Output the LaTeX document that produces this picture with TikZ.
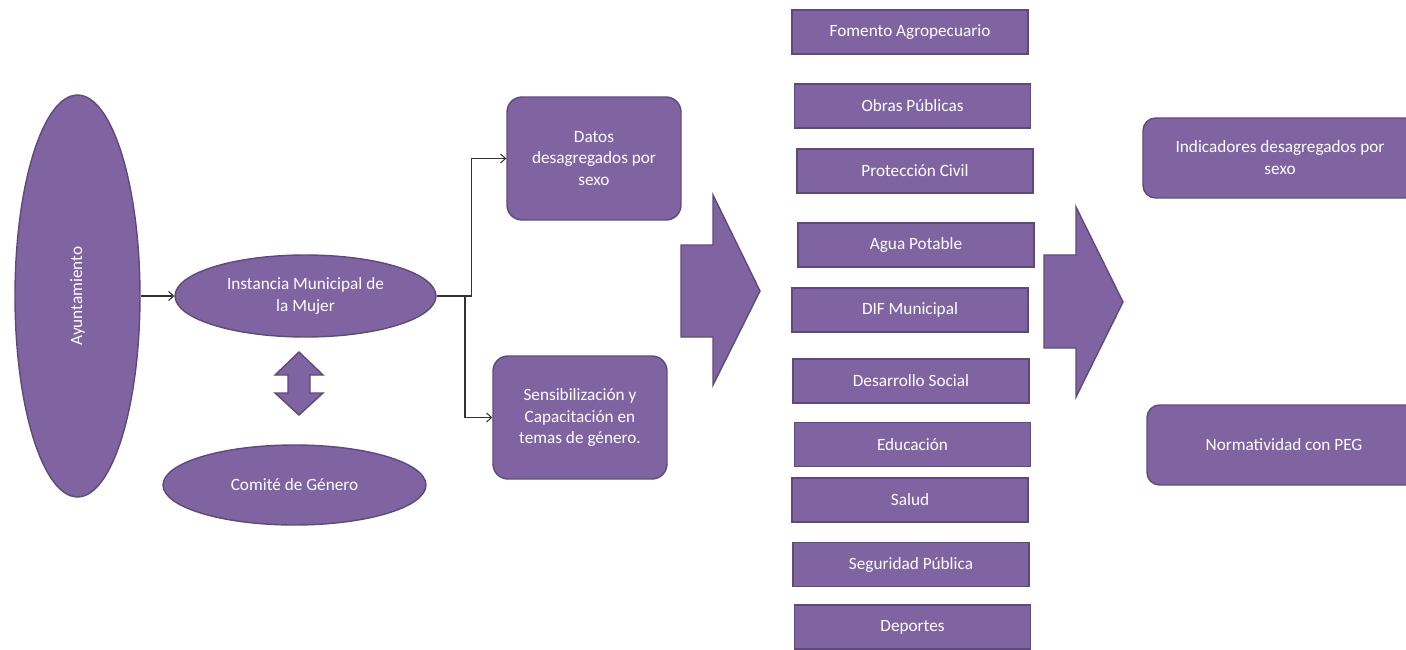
\documentclass[tikz,border=0pt]{standalone}
\usepackage{fontspec}
\setmainfont{Carlito}
\usetikzlibrary{shapes.geometric,arrows.meta}
\definecolor{morado}{HTML}{8064A2}
\definecolor{moradoborde}{HTML}{5E4A7A}
\begin{document}
\begin{tikzpicture}[x=0.02cm,y=-0.02cm,
    elipse/.style={ellipse,draw=moradoborde,fill=morado,line width=0.8pt,inner sep=0pt,text=white,align=center,font=\fontsize{9.8}{12.5}\selectfont},
    caja/.style={rectangle,draw=moradoborde,fill=morado,line width=0.8pt,inner sep=0pt,text=white,align=center,minimum width=4.72cm,minimum height=0.88cm,font=\fontsize{9.8}{12.5}\selectfont},
    redonda/.style={caja,rounded corners=0.3cm},
    flecha/.style={draw=moradoborde,fill=morado,line width=0.8pt,line join=miter},
    conector/.style={draw=black!80,line width=0.6pt,-{Straight Barb[length=1mm,width=1.8mm]}}]
    \useasboundingbox (0,0) rectangle (1406,649);
    \clip (0,0) rectangle (1406,649);
    % izquierda
    \node[elipse,minimum width=2.5cm,minimum height=8.04cm] (ayto) at (77.5,296) {\rotatebox{90}{Ayuntamiento}};
    \node[elipse,minimum width=5.22cm,minimum height=1.64cm] (imm) at (305.5,296) {Instancia Municipal de\\la Mujer};
    \node[elipse,minimum width=5.26cm,minimum height=1.6cm] (comite) at (294.5,485) {Comité de Género};
    \draw[flecha] (299,352) -- (323,375) -- (310,375) -- (310,393) -- (323,393) -- (299,415)
        -- (275,393) -- (288,393) -- (288,375) -- (275,375) -- cycle;
    \draw[conector] (ayto.east) -- (imm.west);
    % ramas
    \node[redonda,minimum width=3.48cm,minimum height=2.46cm] (datos) at (594,158.5) {Datos\\desagregados por\\sexo};
    \node[redonda,minimum width=3.48cm,minimum height=2.46cm] (sensib) at (580,417.5) {Sensibilización y\\Capacitación en\\temas de género.};
    \coordinate (split) at (465,296);
    \draw[conector] (imm.east) -- (split) |- (sensib.west);
    \draw[conector] (split) -- ++(6.7,0) |- (datos.west);
    \draw[flecha] (681,245) -- (713,245) -- (713,195) -- (760,291) -- (713,385) -- (713,337) -- (681,337) -- cycle;
    % areas
    \node[caja] (fomento) at (910,32) {Fomento Agropecuario};
    \node[caja] (obras) at (912.5,106) {Obras Públicas};
    \node[caja] (proteccion) at (915,171) {Protección Civil};
    \node[caja] (agua) at (916,245) {Agua Potable};
    \node[caja] (dif) at (910,310) {DIF Municipal};
    \node[caja] (desarrollo) at (911,381) {Desarrollo Social};
    \node[caja] (educacion) at (912.5,444.5) {Educación};
    \node[caja] (salud) at (910,500) {Salud};
    \node[caja] (seguridad) at (911,564.5) {Seguridad Pública};
    \node[caja] (deportes) at (912.5,627) {Deportes};
    \draw[flecha] (1044,255) -- (1076,255) -- (1076,207) -- (1123,302) -- (1076,397) -- (1076,348) -- (1044,348) -- cycle;
    % resultados
    \node[redonda,rounded corners=0.25cm,minimum width=5.48cm,minimum height=1.6cm] (indicadores) at (1280,158) {Indicadores desagregados por\\sexo};
    \node[redonda,rounded corners=0.25cm,minimum width=5.48cm,minimum height=1.6cm] (normas) at (1284,445) {Normatividad con PEG};
\end{tikzpicture}
\end{document}
